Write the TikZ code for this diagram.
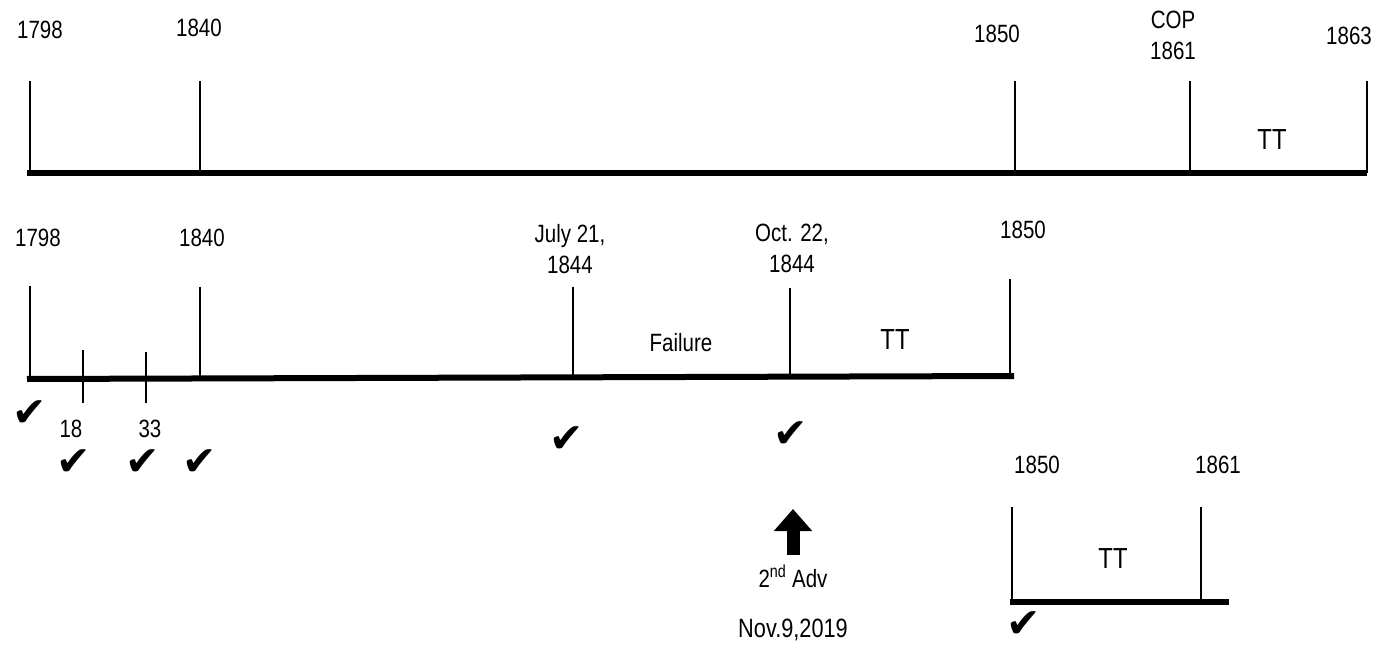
\documentclass[tikz,border=0pt]{standalone}
\usepackage{fontspec}
\setmainfont{Liberation Sans}[FakeStretch=0.82]
\newfontfamily\symfont{DejaVu Sans}
\usetikzlibrary{arrows.meta}
\tikzset{
	year/.style={font=\fontsize{25}{31}\selectfont, align=center, inner sep=0pt},
	span/.style={font=\fontsize{29}{31}\selectfont, inner sep=0pt, anchor=base},
	tick/.style={line width=1.6pt},
	axis/.style={line width=6pt},
	ok/.style={font=\symfont\fontsize{41}{41}\selectfont, inner sep=0pt}
}
\begin{document}
\begin{tikzpicture}[x=1pt,y=-1pt]

		\useasboundingbox (0,0) rectangle (1393,647);

		\node (t1798) at (40,39) [year, anchor=base] {1798};
		\node (t1840) at (199,37) [year, anchor=base] {1840};
		\node (t1850) at (997,43) [year, anchor=base] {1850};
		\node (t1861) at (1173,35) [year] {COP\\1861};
		\node (t1863) at (1349,45) [year, anchor=base] {1863};
		\node (tTT) at (1272,150) [span] {TT};

		\draw [axis] (27,173) -- (1367,173);
		\draw [tick] (30,81) -- (30,173);
		\draw [tick] (200,81) -- (200,173);
		\draw [tick] (1015,81) -- (1015,173);
		\draw [tick] (1190,81) -- (1190,173);
		\draw [tick] (1367,81) -- (1367,173);

		\node (m1798) at (38,247) [year, anchor=base] {1798};
		\node (m1840) at (202,247) [year, anchor=base] {1840};
		\node (mJuly) at (570,249) [year] {July 21,\\1844};
		\node (mOct) at (792,248) [year] {Oct. 22,\\1844};
		\node (m1850) at (1023,239) [year, anchor=base] {1850};
		\node (mFail) at (681,352) [year, anchor=base] {Failure};
		\node (mTT) at (895,349) [span] {TT};
		\node (m18) at (71,437) [year, anchor=base] {18};
		\node (m33) at (150,437) [year, anchor=base] {33};

		\draw [axis] (27,379) -- (1014,376);
		\draw [tick] (30,286) -- (30,378);
		\draw [tick] (83,350) -- (83,403);
		\draw [tick] (146,352) -- (146,403);
		\draw [tick] (200,287) -- (200,378);
		\draw [tick] (573,287) -- (573,378);
		\draw [tick] (790,288) -- (790,377);
		\draw [tick] (1010,279) -- (1010,376);

		\node (c1798) at (30,414) [ok] {✔};
		\node (c18) at (74,463) [ok] {✔};
		\node (c33) at (143,463) [ok] {✔};
		\node (c1840) at (200,463) [ok] {✔};
		\node (cJuly) at (567,440) [ok] {✔};
		\node (cOct) at (791,435) [ok] {✔};

		\coordinate (advtail) at (793,555);
		\coordinate (advtip) at (793,509);
		\draw [line width=13pt, -{Triangle[width=37pt, length=22pt]}] (advtail) -- (advtip);
		\node (adv) at (793,587) [year, anchor=base] {2\textsuperscript{nd} Adv};
		\node (nov) at (793,637) [year, anchor=base, font=\fontsize{26.5}{31}\selectfont] {Nov.9,2019};

		\node (b1850) at (1037,473) [year, anchor=base] {1850};
		\node (b1861) at (1218,473) [year, anchor=base] {1861};
		\node (bTT) at (1113,568) [span] {TT};

		\draw [axis] (1010,602) -- (1229,602);
		\draw [tick] (1012,507) -- (1012,602);
		\draw [tick] (1201,507) -- (1201,602);

		\node (c1850) at (1024,625) [ok] {✔};

		\end{tikzpicture}
\end{document}
